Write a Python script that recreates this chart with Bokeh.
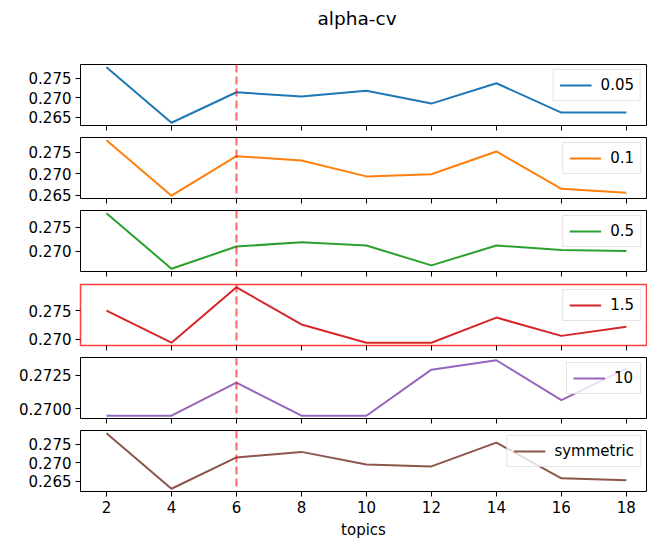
from bokeh.plotting import figure
from bokeh.layouts import column
from bokeh.models import Span, Range1d, FixedTicker, PrintfTickFormatter, Legend, LegendItem, Title
from bokeh.embed import file_html
from bokeh.resources import INLINE

topics = [2, 4, 6, 8, 10, 12, 14, 16, 18]
series_names = ["0.05", "0.1", "0.5", "1.5", "10", "symmetric"]
s_005 = [0.2778, 0.2636, 0.2714, 0.2703, 0.2718, 0.2685, 0.2737, 0.2662, 0.2662]
s_01 = [0.2778, 0.2649, 0.2741, 0.2731, 0.2694, 0.2699, 0.2752, 0.2665, 0.2656]
s_05 = [0.2779, 0.2664, 0.2710, 0.2719, 0.2712, 0.2671, 0.2712, 0.2703, 0.2701]
s_15 = [0.2750, 0.2694, 0.2791, 0.2726, 0.2694, 0.2694, 0.2738, 0.2706, 0.2722]
s_10 = [0.26948, 0.26948, 0.27195, 0.26948, 0.26948, 0.27292, 0.27362, 0.27064, 0.27299]
s_sym = [0.2779, 0.2630, 0.2714, 0.2729, 0.2695, 0.2690, 0.2754, 0.2658, 0.2653]
series_values = [s_005, s_01, s_05, s_15, s_10, s_sym]
y_ticks = [
    [0.265, 0.270, 0.275],
    [0.265, 0.270, 0.275],
    [0.270, 0.275],
    [0.270, 0.275],
    [0.2700, 0.2725],
    [0.265, 0.270, 0.275],
]
y_formats = ["%.3f", "%.3f", "%.3f", "%.3f", "%.4f", "%.3f"]
highlight_topic = 6
highlight_panel = "1.5"
title_text = "alpha-cv"
x_label = "topics"

colors = ["#1f77b4", "#ff7f0e", "#2ca02c", "#d62728", "#9467bd", "#8c564b"]
FONT = "DejaVu Sans"
FS = "15px"

W = 647
heights = [93, 73, 74, 73, 74, 117]
tops = [24, 4, 4, 4, 4, 3]
bottoms = [8, 8, 9, 8, 9, 53]

x_start = topics[0] - 0.05 * (topics[-1] - topics[0])
x_end = 18.62

# title strip
head = figure(width=W, height=40, output_backend="svg", toolbar_location=None,
              x_axis_location=None, y_axis_location=None,
              min_border_left=80, min_border_right=1, min_border_top=0, min_border_bottom=0)
head.grid.visible = False
head.outline_line_color = None
head.background_fill_color = "white"
head.border_fill_color = "white"
head.title = Title(text=title_text, align="left", offset=237, vertical_align="bottom",
                   standoff=10, text_font=FONT, text_font_size="18.5px",
                   text_font_style="normal", text_color="black")

figs = [head]
n = len(series_names)
for i in range(n):
    vals = series_values[i]
    lo, hi = min(vals), max(vals)
    pad = 0.05 * (hi - lo)
    p = figure(width=W, height=heights[i], output_backend="svg", toolbar_location=None,
               x_range=Range1d(x_start, x_end), y_range=Range1d(lo - pad, hi + pad),
               min_border_left=80, min_border_right=1,
               min_border_top=tops[i], min_border_bottom=bottoms[i])
    p.grid.visible = False
    p.background_fill_color = "white"
    p.border_fill_color = "white"
    if series_names[i] == highlight_panel:
        p.outline_line_color = "red"
        p.outline_line_alpha = 0.75
        p.outline_line_width = 1.5
    else:
        p.outline_line_color = "black"
        p.outline_line_alpha = 1.0
        p.outline_line_width = 1

    r = p.line(topics, vals, line_color=colors[i], line_width=2)
    p.add_layout(Span(location=highlight_topic, dimension="height", line_color="red",
                      line_alpha=0.6, line_dash="8 4", line_width=2))

    for ax in (p.xaxis[0], p.yaxis[0]):
        ax.axis_line_color = None
        ax.major_tick_line_color = "black"
        ax.major_tick_out = 5
        ax.major_tick_in = 0
        ax.minor_tick_line_color = None
        ax.major_label_text_font = FONT
        ax.major_label_text_font_size = FS
        ax.major_label_text_color = "black"
        ax.major_label_standoff = 4

    p.xaxis.ticker = FixedTicker(ticks=topics)
    p.yaxis.ticker = FixedTicker(ticks=y_ticks[i])
    p.yaxis.formatter = PrintfTickFormatter(format=y_formats[i])

    if i < n - 1:
        p.xaxis.major_label_overrides = {t: "" for t in topics}
        p.xaxis.major_label_standoff = 0
    else:
        p.xaxis.axis_label = x_label
        p.xaxis.axis_label_text_font = FONT
        p.xaxis.axis_label_text_font_size = FS
        p.xaxis.axis_label_text_font_style = "normal"
        p.xaxis.axis_label_text_color = "black"
        p.xaxis.axis_label_standoff = 5

    legend = Legend(items=[LegendItem(label=series_names[i], renderers=[r])],
                    location="top_right", margin=5, padding=6, spacing=0,
                    glyph_width=32, glyph_height=16, label_standoff=9,
                    label_text_font=FONT, label_text_font_size=FS,
                    label_text_color="black",
                    border_line_color="#cccccc", border_line_width=1,
                    background_fill_color="white", background_fill_alpha=0.8)
    p.add_layout(legend)
    figs.append(p)

layout = column(*figs, spacing=0)
open("out.html", "w").write(file_html(layout, INLINE))
